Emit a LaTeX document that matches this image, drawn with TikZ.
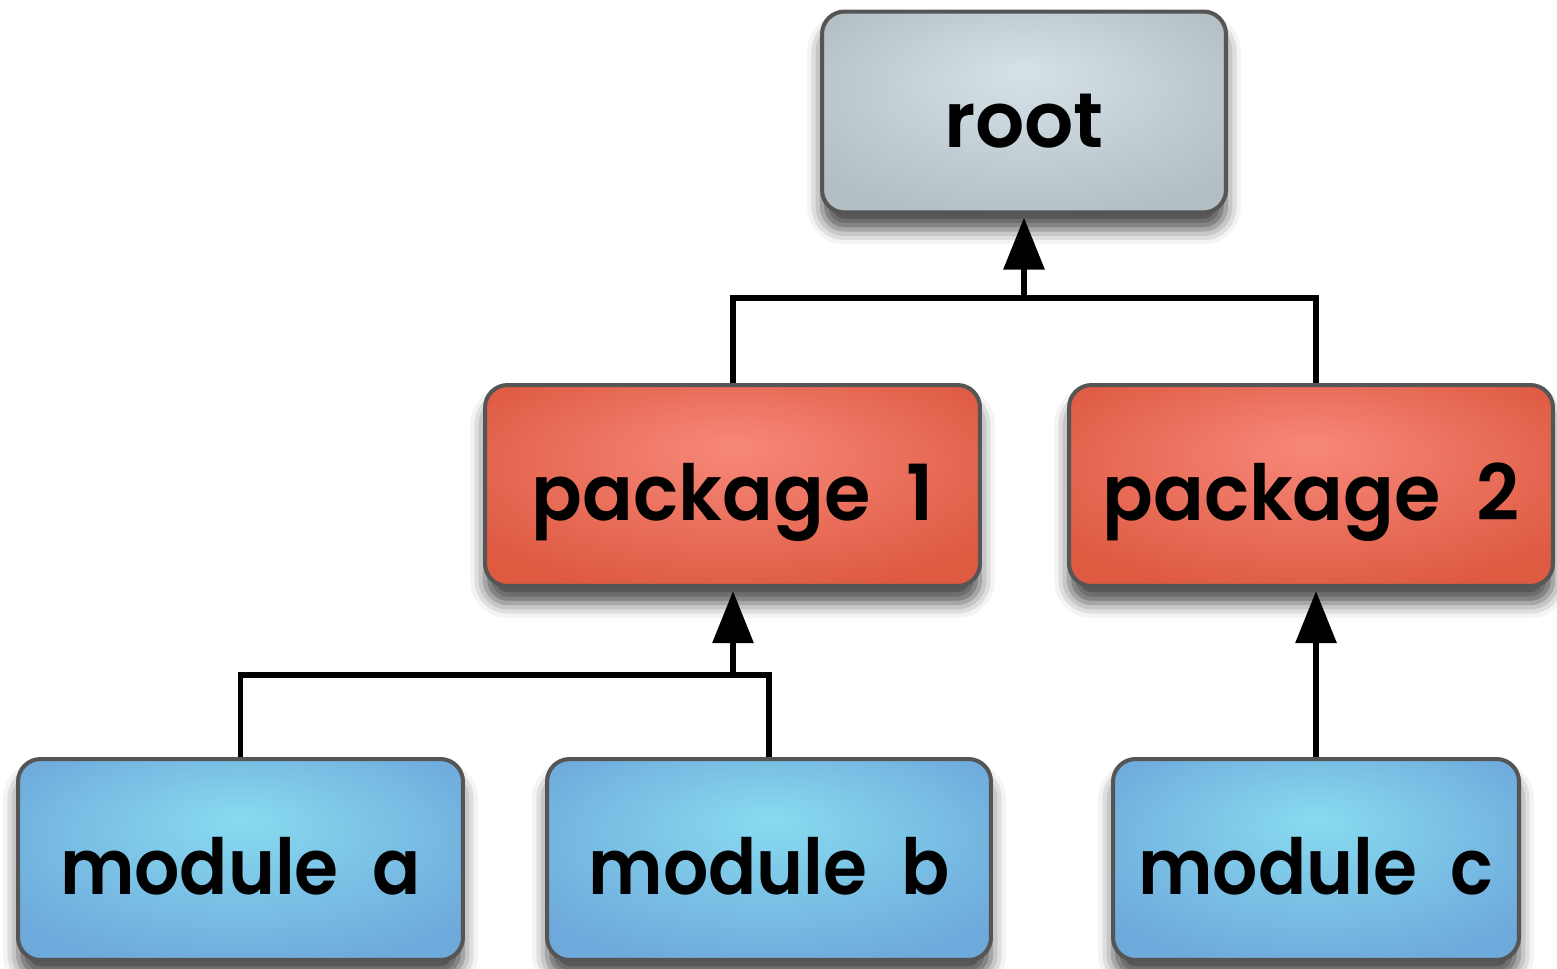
\documentclass[tikz,border=0pt]{standalone}
\usepackage{fontspec}
\setmainfont{Poppins SemiBold}
\usetikzlibrary{arrows.meta,shadows.blur}
\definecolor{bordergray}{HTML}{555555}
\definecolor{rootin}{HTML}{D6E2E8}
\definecolor{rootout}{HTML}{B2BEC2}
\definecolor{pkgin}{HTML}{F7887A}
\definecolor{pkgout}{HTML}{DE5A41}
\definecolor{modin}{HTML}{88DBF0}
\definecolor{modout}{HTML}{6EA9DB}
\pgfdeclareradialshading{rootshade}{\pgfpoint{0bp}{10bp}}{color(0bp)=(rootin); color(32bp)=(rootout); color(50bp)=(rootout)}
\pgfdeclareradialshading{pkgshade}{\pgfpoint{0bp}{10bp}}{color(0bp)=(pkgin); color(32bp)=(pkgout); color(50bp)=(pkgout)}
\pgfdeclareradialshading{modshade}{\pgfpoint{0bp}{10bp}}{color(0bp)=(modin); color(32bp)=(modout); color(50bp)=(modout)}
\begin{document}
\begin{tikzpicture}[x=0.02cm,y=-0.02cm,
  box/.style={draw=bordergray, line width=2.3pt, rounded corners=0.45cm,
    inner sep=0pt, text height=1.4cm, text depth=0pt, minimum height=4.02cm,
    font=\fontsize{44}{44}\selectfont,
    blur shadow={shadow xshift=0cm, shadow yshift=-0.34cm, shadow blur radius=0.3cm, shadow opacity=70}},
  rootbox/.style={box, shading=rootshade},
  pkgbox/.style={box, shading=pkgshade},
  modbox/.style={box, shading=modshade},
  conn/.style={line width=3.4pt, draw=black, line join=miter},
  arr/.style={conn, -{Triangle[length=1.04cm,width=0.8cm]}, shorten >=0.06cm}]
\useasboundingbox (0,0) rectangle (1557,968);
\node[rootbox, minimum width=8.08cm] (root) at (1024,112) {root};
\node[pkgbox, minimum width=9.9cm] (p1) at (732.5,485.5) {\scalebox{0.97}[1]{package\ \ 1}};
\node[pkgbox, minimum width=9.68cm] (p2) at (1311,485.5) {\scalebox{0.97}[1]{package\ \ 2}};
\node[modbox, minimum width=8.9cm] (ma) at (240.5,859.5) {\scalebox{0.92}[1]{module\ \ a}};
\node[modbox, minimum width=8.88cm] (mb) at (769,859.5) {\scalebox{0.92}[1]{module\ \ b}};
\node[modbox, minimum width=8.12cm] (mc) at (1316,859.5) {\scalebox{0.92}[1]{module\ \ c}};
\coordinate (j1) at (1024,298);
\coordinate (j2) at (733,675);
\coordinate (p2top) at (1316,383);
\draw[conn] (p1.north -| j2) |- (j1) -| (p2top);
\draw[arr] (j1) -- (root.south);
\draw[conn] (ma.north) |- (j2) -| (mb.north);
\draw[arr] (j2) -- (p1.south -| j2);
\draw[arr] (mc.north) -- (p2.south -| mc.north);
\end{tikzpicture}
\end{document}
